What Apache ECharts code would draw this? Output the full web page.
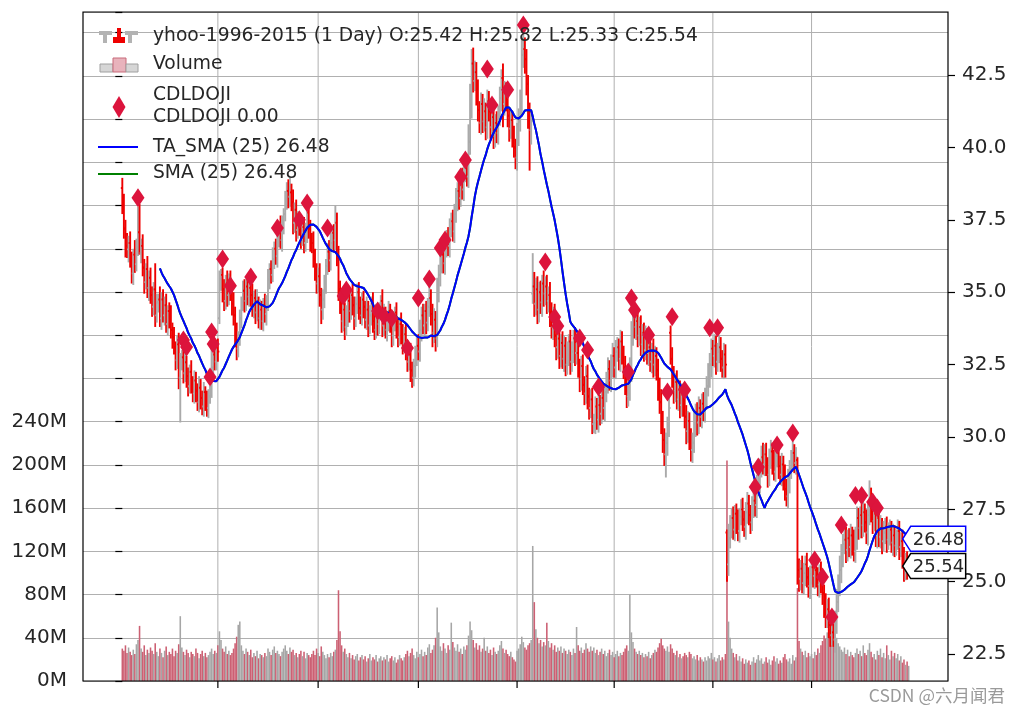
<!DOCTYPE html>
<html><head><meta charset="utf-8">
<script src="https://cdn.jsdelivr.net/npm/echarts@6/dist/echarts.min.js"></script>
<style>html,body{margin:0;padding:0;background:#fff}#c{width:1021px;height:714px}</style>
</head><body><div id="c"></div>
<script>
// ---- data (daily bars, 2005-01-03 .. 2006-12-29) ----
const opens = [38.60,38.20,37.20,36.60,36.48,36.70,36.10,35.65,36.30,35.97,
36.55,37.07,36.35,36.60,35.85,35.35,35.80,35.15,35.50,34.90,
34.50,35.10,34.20,34.65,34.75,34.10,34.75,34.20,34.55,33.90,
34.35,34.10,33.70,33.45,33.10,32.65,33.20,32.05,32.60,32.75,
32.20,32.58,32.10,31.75,32.25,31.90,31.50,31.95,31.60,31.20,
31.70,31.35,31.05,31.55,31.30,31.00,31.40,31.45,32.40,32.85,
32.60,33.10,34.10,35.45,35.60,35.10,34.70,35.30,34.90,35.45,
35.00,34.60,34.20,33.60,33.05,33.40,34.10,34.65,35.05,34.70,
35.20,34.85,35.15,34.90,34.45,34.80,34.30,34.65,34.10,34.40,
34.00,34.55,34.25,34.60,35.45,35.80,35.60,36.15,36.50,36.25,
36.90,37.20,36.80,37.35,37.70,38.15,38.50,38.30,38.45,38.10,
37.40,37.85,37.15,37.50,37.30,36.90,37.25,36.70,37.10,37.75,
37.20,36.80,36.70,36.15,35.80,35.30,35.55,34.90,34.40,34.75,
35.30,35.90,36.40,36.10,36.70,37.05,36.80,37.40,36.20,35.10,
34.60,34.00,34.40,33.80,34.15,34.70,34.35,34.90,34.55,34.10,
34.60,35.00,34.45,34.20,34.75,34.50,34.05,34.40,33.85,34.20,
34.60,34.00,33.70,34.25,33.90,34.35,34.70,33.85,34.25,33.70,
34.00,34.35,33.90,33.50,33.95,34.30,33.80,33.45,33.90,33.60,
33.20,33.55,33.05,32.60,32.85,32.30,32.05,32.45,32.80,33.15,
32.95,33.70,34.20,33.85,34.35,33.95,34.50,34.80,34.25,33.60,
34.05,33.40,35.00,35.60,35.95,36.30,36.00,36.50,36.85,36.60,
37.20,37.45,37.10,37.70,38.15,38.50,38.25,38.80,38.55,39.10,
39.30,39.00,40.20,41.50,42.90,42.30,42.60,41.90,41.30,40.85,
41.50,40.90,41.25,40.70,41.60,41.25,40.70,41.05,40.40,40.85,
40.50,41.10,41.70,42.40,41.50,41.95,41.60,41.10,40.65,40.95,
40.40,40.00,39.65,40.45,40.90,41.50,43.20,43.40,43.05,42.20,
41.10,40.60,34.95,35.20,34.60,35.10,34.40,35.00,34.65,35.30,
34.95,35.20,34.70,34.90,34.30,33.80,34.20,33.50,33.10,33.40,
32.80,33.25,32.70,33.15,32.50,32.85,33.30,32.60,32.95,33.40,
32.90,32.90,32.40,32.00,32.45,31.80,31.50,32.10,31.40,31.00,
31.30,30.45,30.50,31.05,30.60,31.10,30.80,31.35,31.00,31.55,
31.90,32.35,31.95,32.50,32.80,32.40,32.95,33.10,32.70,33.30,
32.85,32.40,31.90,31.40,31.70,32.30,33.50,34.20,33.80,34.00,
33.50,33.80,33.20,33.60,33.00,33.45,32.90,33.10,32.60,32.95,
32.50,32.80,32.30,31.70,31.20,30.60,29.90,29.40,29.80,30.40,
33.60,32.70,32.10,31.60,31.90,31.30,31.65,31.10,31.45,31.05,
30.70,30.20,30.55,29.90,29.55,29.80,30.40,30.85,30.50,31.00,
30.70,31.15,30.90,31.40,31.75,32.10,32.50,33.05,32.80,33.15,
32.60,32.95,33.10,32.70,32.40,32.85,26.70,25.60,26.50,26.90,
27.20,26.80,27.35,27.10,26.75,27.25,27.50,27.15,26.90,27.40,
27.70,27.30,27.05,27.55,27.80,27.65,28.30,28.45,28.90,29.30,
29.05,29.40,29.00,28.70,29.25,29.50,29.10,28.80,29.35,29.45,
29.00,28.70,29.05,28.60,28.20,27.95,28.50,28.90,29.20,29.45,
29.10,29.20,25.40,25.10,25.45,24.95,25.30,25.60,25.15,24.85,
25.25,25.50,25.20,25.40,25.15,24.90,25.30,24.95,24.60,24.20,
23.80,24.05,23.50,23.15,23.25,23.00,23.60,24.30,24.90,25.40,
25.90,26.30,26.45,26.10,26.50,26.20,26.60,26.35,26.05,26.55,
27.20,26.85,27.30,26.95,27.40,27.05,26.70,27.30,27.90,27.45,
27.10,27.35,26.60,27.20,26.55,26.85,26.40,26.70,26.90,26.45,
26.65,26.80,26.35,26.60,26.25,26.50,26.75,26.20,26.40,25.85,
25.45,25.70,25.42];

const closes = [38.20,37.20,36.60,36.48,36.70,36.10,35.65,36.30,35.97,36.55,
37.07,36.35,36.60,35.85,35.35,35.80,35.15,35.50,34.90,34.50,
35.10,34.20,34.65,34.75,34.10,34.75,34.20,34.55,33.90,34.35,
34.10,33.70,33.45,33.10,32.65,33.20,32.05,32.60,32.75,32.20,
32.58,32.10,31.75,32.25,31.90,31.50,31.95,31.60,31.20,31.70,
31.35,31.05,31.55,31.30,31.00,31.40,31.45,32.40,32.85,32.60,
33.10,32.95,35.45,35.60,35.10,34.70,35.30,34.90,35.45,35.00,
34.60,34.20,33.60,33.05,33.40,34.10,34.65,35.05,34.70,35.20,
34.85,35.15,34.90,34.45,34.80,34.30,34.65,34.10,34.40,34.00,
34.55,34.25,34.60,35.45,35.80,35.60,36.15,36.50,36.25,36.90,
37.20,36.80,37.35,37.70,38.15,38.50,38.30,38.45,38.10,37.40,
37.85,37.15,37.50,37.30,36.90,37.25,36.70,37.10,37.75,37.20,
36.80,36.70,36.15,35.80,35.30,35.55,34.90,34.40,34.75,35.30,
35.90,36.40,36.10,36.70,37.05,36.80,37.40,36.20,35.10,34.60,
34.00,34.40,33.80,34.15,34.70,34.35,34.90,34.55,34.10,34.60,
35.00,34.45,34.20,34.75,34.50,34.05,34.40,33.85,34.20,34.60,
34.00,33.70,34.25,33.90,34.35,34.70,33.85,34.25,33.70,34.00,
34.35,33.90,33.50,33.95,34.30,33.80,33.45,33.90,33.60,33.20,
33.55,33.05,32.60,32.85,32.30,32.05,32.45,32.80,33.15,32.95,
33.70,34.20,33.85,34.35,33.95,34.50,34.80,34.25,33.60,34.05,
33.40,35.00,35.60,35.95,36.30,36.00,36.50,36.85,36.60,37.20,
37.45,37.10,37.70,38.15,38.50,38.25,38.80,38.55,39.10,39.30,
39.00,40.20,41.50,42.90,42.30,42.60,41.90,41.30,40.85,41.50,
40.90,41.25,40.70,41.60,41.25,40.70,41.05,40.40,40.85,40.50,
41.10,41.70,42.40,41.50,41.95,41.60,41.10,40.65,40.95,40.40,
40.00,39.65,40.45,40.90,41.50,43.20,43.40,43.05,42.20,41.10,
40.60,40.90,35.20,34.60,35.10,34.40,35.00,34.65,35.30,34.95,
35.20,34.70,34.90,34.30,33.80,34.20,33.50,33.10,33.40,32.80,
33.25,32.70,33.15,32.50,32.85,33.30,32.60,32.95,33.40,32.90,
32.90,32.40,32.00,32.45,31.80,31.50,32.10,31.40,31.00,31.30,
30.45,30.50,31.05,30.60,31.10,30.80,31.35,31.00,31.55,31.90,
32.35,31.95,32.50,32.80,32.40,32.95,33.10,32.70,33.30,32.85,
32.40,31.90,31.40,31.70,32.30,33.50,34.20,33.80,34.00,33.50,
33.80,33.20,33.60,33.00,33.45,32.90,33.10,32.60,32.95,32.50,
32.80,32.30,31.70,31.20,30.60,29.90,29.40,29.80,30.40,31.00,
32.70,32.10,31.60,31.90,31.30,31.65,31.10,31.45,31.05,30.70,
30.20,30.55,29.90,29.55,29.80,30.40,30.85,30.50,31.00,30.70,
31.15,30.90,31.40,31.75,32.10,32.50,33.05,32.80,33.15,32.60,
32.95,33.10,32.70,32.40,32.85,32.50,25.60,26.50,26.90,27.20,
26.80,27.35,27.10,26.75,27.25,27.50,27.15,26.90,27.40,27.70,
27.30,27.05,27.55,27.80,27.65,28.30,28.45,28.90,29.30,29.05,
29.40,29.00,28.70,29.25,29.50,29.10,28.80,29.35,29.45,29.00,
28.70,29.05,28.60,28.20,27.95,28.50,28.90,29.20,29.45,29.10,
29.30,25.40,25.10,25.45,24.95,25.30,25.60,25.15,24.85,25.25,
25.50,25.20,25.40,25.15,24.90,25.30,24.95,24.60,24.20,23.80,
24.05,23.50,23.15,23.25,23.00,23.60,24.30,24.90,25.40,25.90,
26.30,26.45,26.10,26.50,26.20,26.60,26.35,26.05,26.55,27.20,
26.85,27.30,26.95,27.40,27.05,26.70,27.30,27.90,27.45,27.10,
27.35,26.60,27.20,26.55,26.85,26.40,26.70,26.90,26.45,26.65,
26.80,26.35,26.60,26.25,26.50,26.75,26.20,26.40,25.85,25.45,
25.70,25.42,25.54];

// distance from the bar body to the high / low (price units)
const wickUp = [.35,.20,.30,.45,.25,.40,.30,.20,.50,.30,
.88,.98,.25,.40,.30,.20,.45,.25,.35,.30,
.25,.90,.30,.20,.45,.25,.35,.30,.40,.20,
.30,.45,.25,.35,.20,.30,.40,.30,.25,.30,
.35,.22,.30,.25,.40,.20,.35,.30,.25,.40,
.30,.25,.35,.20,.30,.25,.32,.93,.05,.40,
.25,.30,.30,.20,.25,.35,.30,.45,.20,.30,
.25,.40,.30,.35,.25,.30,.20,.35,.40,.25,
.30,.20,.35,.40,.25,.30,.45,.20,.35,.30,
.25,.40,.30,.35,.20,.30,.40,.25,.35,.30,
.25,.45,.30,.20,.35,.30,.40,.50,.30,.45,
.25,.35,.30,.20,.40,.25,.35,.30,.05,.40,
.30,.25,.40,.35,.20,.30,.45,.25,.35,.30,
.25,.30,.40,.35,.25,.30,.60,.35,.40,.30,
.45,.30,.25,.40,.30,.35,.20,.40,.30,.25,
.30,.35,.40,.25,.30,.20,.45,.30,.35,.25,
.40,.30,.35,.25,.30,.20,.40,.35,.25,.30,
.35,.25,.30,.40,.20,.35,.30,.25,.40,.30,
.25,.35,.30,.20,.40,.30,.25,.35,.30,.40,
.35,.30,.40,.25,.35,.30,.45,.30,.35,.40,
.30,.50,.35,.40,.30,.45,.35,.30,.40,.35,
.30,.40,.35,.45,.30,.40,.35,.50,.30,.40,
.35,.60,.70,.50,.55,.40,.35,.45,.30,.40,
.35,.45,.30,.40,.35,.30,.45,.35,.30,.40,
.35,.40,.30,.50,.35,.30,.40,.25,.35,.30,
.35,.30,.40,.45,.50,.60,.56,.40,.35,.30,
.45,.30,1.15,.50,.40,.45,.35,.40,.30,.45,
.35,.40,.30,.45,.35,.30,.40,.35,.30,.45,
.30,.40,.35,.30,.45,.25,.40,.35,.30,.40,
.35,.40,.30,.35,.40,.30,.35,.40,.30,.35,
.40,.30,.35,.30,.40,.35,.30,.45,.30,.35,
.40,.30,.35,.45,.30,.40,.35,.30,.40,.35,
.30,.40,.35,.30,.45,.50,.40,.35,.30,.40,
.35,.40,.30,.35,.40,.30,.35,.40,.30,.45,
.35,.30,.40,.35,.45,.30,.40,.35,.30,.40,
.25,.40,.35,.30,.40,.35,.30,.40,.35,.30,
.40,.35,.30,.40,.35,.45,.30,.35,.40,.30,
.35,.40,.30,.35,.45,.40,.35,.30,.40,.35,
.30,.40,.35,.30,.40,.35,.10,.50,.40,.35,
.40,.30,.35,.40,.30,.35,.40,.30,.35,.40,
.30,.35,.40,.30,.35,.40,.45,.35,.40,.50,
.35,.40,.30,.35,.40,.30,.45,.35,.30,.40,
.35,.40,.30,.45,.35,.40,.30,.35,.40,.30,
.35,.10,.40,.30,.45,.35,.30,.40,.35,.30,
.40,.35,.30,.40,.35,.30,.40,.35,.30,.40,
.35,.40,.30,.35,.30,.40,.45,.35,.50,.40,
.35,.40,.45,.30,.35,.40,.30,.45,.35,.40,
.35,.30,.40,.35,.30,.45,.40,.60,.35,.40,
.30,.35,.40,.30,.45,.35,.40,.30,.35,.40,
.35,.30,.40,.35,.30,.40,.35,.30,.40,.35,
.30,.35,.28];

const wickDown = [.50,.35,.40,.30,.45,.25,.35,.40,.30,.25,
.30,.05,.35,.30,.40,.25,.35,.45,.30,.35,
.30,.40,.25,.35,.30,.40,.25,.35,.30,.40,
.35,.30,.40,.25,.35,.30,.40,1.55,.30,.35,
.30,.40,.35,.25,.40,.30,.35,.40,.30,.35,
.40,.30,.35,.40,.30,.35,.25,.10,.35,.30,
.30,.35,.20,.40,.45,.35,.30,.40,.35,.30,
.40,.35,.50,.40,.30,.25,.35,.30,.40,.35,
.30,.35,.40,.30,.35,.40,.30,.35,.40,.30,
.35,.30,.40,.25,.35,.30,.25,.35,.30,.40,
.35,.30,.40,.35,.25,.30,.40,.35,.30,.40,
.35,.40,.30,.35,.40,.30,.35,.30,.40,.35,
.40,.35,.30,.40,.35,.30,.40,.50,.35,.30,
.35,.30,.40,.35,.30,.40,.35,.30,.40,.35,
.40,.35,.45,.30,.35,.40,.30,.35,.40,.30,
.35,.40,.30,.35,.40,.30,.35,.40,.30,.35,
.40,.35,.30,.40,.35,.30,.40,.35,.30,.40,
.35,.30,.40,.35,.30,.40,.35,.30,.40,.35,
.30,.40,.35,.30,.40,.35,.30,.40,.35,.30,
.35,.40,.30,.35,.40,.30,.35,.40,.50,.35,
.45,.30,.35,.40,.30,.35,.40,.30,.35,.40,
.30,.35,.40,.30,.35,.40,.30,.35,.40,.30,
.35,.40,.45,.50,.40,.35,.45,.40,.35,.40,
.40,.35,.45,.40,.35,.40,.35,.45,.40,.35,
.40,.35,.45,.80,.40,.35,.40,.45,.35,.40,
.35,.40,.45,.40,.35,.40,.45,.50,.40,.45,
1.40,.50,.35,.45,.40,.50,.45,.40,.50,.45,
.40,.45,.40,.50,.40,.45,.40,.45,.40,.45,
.40,.35,.45,.40,.35,.40,.45,.35,.40,.45,
.40,.35,.45,.40,.35,.40,.35,.45,.40,.35,
.35,.31,.40,.35,.45,.40,.35,.40,.45,.35,
.40,.35,.40,.45,.35,.40,.35,.40,.45,.35,
.40,.45,.40,.35,.45,.40,.35,.40,.45,.40,
.35,.40,.45,.40,.35,.40,.45,.35,.40,.45,
.40,.35,.45,.40,.50,.45,.40,.80,.45,.40,
.20,.40,.45,.40,.35,.40,.45,.40,.35,.40,
.45,.40,.35,.40,.45,.35,.40,.45,.40,.35,
.40,.35,.40,.45,.35,.40,.45,.35,.40,.45,
.35,.40,.45,.35,.40,.45,.60,.40,.35,.40,
.35,.40,.45,.35,.40,.30,.40,.35,.45,.40,
.35,.40,.30,.35,.40,.45,.35,.40,.30,.35,
.40,.35,.45,.40,.35,.40,.30,.35,.40,.45,
.35,.40,.45,.40,.35,.40,.45,.35,.40,.35,
.40,.50,.45,.40,.35,.40,.45,.35,.40,.45,
.35,.40,.45,.35,.40,.45,.35,.40,.45,.40,
.40,.45,.40,.35,.25,.45,.40,.35,.40,.45,
.40,.35,.45,.40,.35,.40,.45,.35,.40,.45,
.40,.35,.45,.40,.35,.40,.45,.35,.40,.45,
.35,.40,.45,.35,.40,.45,.35,.40,.45,.35,
.40,.35,.45,.40,.35,.40,.45,.35,.40,.45,
.40,.35,.09];

// volume, millions of shares
const volumes = [30,28,33,26,31,27,24,29,25,34,
38,51,30,27,33,24,29,26,31,28,
25,35,27,23,30,26,22,28,32,24,
27,25,30,23,28,26,34,60,31,27,
24,29,26,22,27,25,23,30,26,21,
25,28,23,26,22,24,27,30,25,28,
26,33,46,38,30,27,32,25,28,24,
26,30,35,41,52,55,33,28,25,30,
27,24,29,22,26,23,28,21,25,24,
22,26,23,30,27,24,29,32,26,28,
25,23,27,30,33,28,25,31,27,29,
24,26,22,25,28,23,27,21,26,24,
22,25,28,24,30,26,23,32,27,24,
21,25,22,26,23,27,29,38,84,46,
33,27,30,25,22,26,21,24,20,23,
25,19,22,24,20,23,18,21,25,19,
22,20,24,18,21,23,19,22,20,24,
18,21,23,19,22,17,20,24,21,19,
22,25,28,23,26,30,24,21,27,22,
25,29,23,27,24,31,34,26,29,33,
40,68,45,32,28,35,30,26,33,29,
54,36,31,28,34,27,30,25,32,29,
33,42,55,47,38,31,35,29,33,27,
30,40,28,32,26,29,24,31,27,25,
28,33,37,30,26,29,25,23,27,22,
20,18,28,30,34,41,36,31,29,33,
35,38,125,73,48,40,35,38,32,36,
33,54,37,31,35,29,33,27,31,28,
32,26,30,28,25,29,27,24,30,26,
50,33,28,31,26,29,35,30,27,32,
28,31,26,29,24,27,30,25,28,23,
26,29,24,27,22,25,28,23,26,24,
27,30,33,28,80,45,36,30,27,25,
28,24,26,22,25,23,27,21,24,26,
29,27,31,35,39,33,30,28,32,27,
34,30,26,24,28,22,25,21,23,26,
24,22,27,25,21,23,20,24,19,22,
20,18,22,19,23,21,26,20,22,18,
21,24,19,22,20,25,204,55,40,30,
26,22,25,19,23,18,21,16,20,17,
19,15,18,22,17,20,24,19,21,16,
18,22,17,20,15,19,23,18,21,16,
19,17,22,25,20,18,21,16,24,19,
22,86,37,30,27,24,28,22,26,23,
25,21,27,24,30,26,33,37,42,39,
45,48,41,55,38,44,40,35,32,29,
27,31,25,29,23,27,24,22,26,30,
25,28,23,33,26,24,29,35,27,22,
25,20,28,24,30,22,26,21,33,24,
20,28,23,26,21,25,19,23,17,20,
15,18,14];

// CDLDOJI hits: bar index and marker level
const dojiIdx = [10,39,41,56,57,58,64,69,82,99,113,118,131,141,143,163,167,172,182,189,196,203,206,216,219,233,236,246,256,270,276,278,292,297,304,323,325,327,336,348,351,359,375,380,404,406,418,428,442,447,453,459,468,472,479,482];
const dojiVal = [38.26,33.35,33.11,32.07,33.63,33.21,36.15,35.22,35.53,37.22,37.50,38.08,37.22,34.87,35.08,34.35,34.18,34.10,33.07,34.80,35.46,36.53,36.80,38.98,39.57,42.71,41.47,41.99,44.23,36.04,34.14,33.83,33.42,33.00,31.73,32.24,34.80,34.39,33.52,31.55,34.15,31.62,33.77,33.77,28.27,28.96,29.72,30.14,25.75,25.16,23.78,26.96,27.98,27.98,27.75,27.55];

// first trading day of each quarter (bar index) -> x ticks
const quarterIdx = [61,125,189,252,314,377,440];
const priceTicks = [22.5,25,27.5,30,32.5,35,37.5,40,42.5];
const SMA_PERIOD = 25;

// ---- build ----
const n = closes.length;
const highs = closes.map((c,i)=> Math.max(opens[i],c) + wickUp[i]);
const lows  = closes.map((c,i)=> Math.min(opens[i],c) - wickDown[i]);
const ohlc = closes.map((c,i)=>[i, opens[i], highs[i], lows[i], c]);
const volData = volumes.map((v,i)=>[i, v, closes[i] >= opens[i] ? 1 : 0]);
const smaData = [];
for (let i = SMA_PERIOD-1; i < n; i++) {
  let s = 0; for (let k = i-SMA_PERIOD+1; k <= i; k++) s += closes[k];
  smaData.push([i, s/SMA_PERIOD]);
}
const smaLast = smaData[smaData.length-1][1];
const dojiData = dojiIdx.map((d,k)=>[d, dojiVal[k]]);
const L = n-1;
const f2 = v => v.toFixed(2);

const FONT = 'DejaVu Sans';
const LFONT = `18.7px "${FONT}"`;
const chart = echarts.init(document.getElementById('c'));
const TXT = '#262626';

const legendG = [
  // OHLC icon
  {type:'rect', shape:{x:99,y:31,width:13,height:4}, style:{fill:'#b3b3b3'}},
  {type:'rect', shape:{x:103,y:31,width:4,height:12}, style:{fill:'#b3b3b3'}},
  {type:'rect', shape:{x:117,y:28,width:4,height:15}, style:{fill:'#ee0000'}},
  {type:'rect', shape:{x:113,y:37,width:12,height:6}, style:{fill:'#ee0000'}},
  {type:'rect', shape:{x:125,y:31,width:13,height:4}, style:{fill:'#b3b3b3'}},
  {type:'rect', shape:{x:128,y:31,width:4,height:12}, style:{fill:'#b3b3b3'}},
  {type:'text', style:{x:153,y:36,text:`yhoo-1996-2015 (1 Day) O:${f2(opens[L])} H:${f2(highs[L])} L:${f2(lows[L])} C:${f2(closes[L])}`, font:LFONT, fill:TXT, verticalAlign:'middle'}},
  // volume icon
  {type:'rect', shape:{x:100,y:64,width:13,height:8}, style:{fill:'#d6d6d6', stroke:'#a0a0a0', lineWidth:1}},
  {type:'rect', shape:{x:113,y:58,width:13,height:14}, style:{fill:'#e8b3bc', stroke:'#c86a7a', lineWidth:1}},
  {type:'rect', shape:{x:126,y:64,width:12,height:8}, style:{fill:'#d6d6d6', stroke:'#a0a0a0', lineWidth:1}},
  {type:'text', style:{x:153,y:64,text:'Volume', font:LFONT, fill:TXT, verticalAlign:'middle'}},
  // doji icon
  {type:'polygon', shape:{points:[[119,96],[125.5,107],[119,118],[112.5,107]]}, style:{fill:'#dc143c'}},
  {type:'text', style:{x:153,y:95,text:'CDLDOJI', font:LFONT, fill:TXT, verticalAlign:'middle'}},
  {type:'text', style:{x:153,y:117,text:'CDLDOJI 0.00', font:LFONT, fill:TXT, verticalAlign:'middle'}},
  // sma icons
  {type:'line', shape:{x1:98,y1:147,x2:138,y2:147}, style:{stroke:'#0000ff', lineWidth:2}},
  {type:'text', style:{x:153,y:147,text:`TA_SMA (${SMA_PERIOD}) ${f2(smaLast)}`, font:LFONT, fill:TXT, verticalAlign:'middle'}},
  {type:'line', shape:{x1:98,y1:174,x2:138,y2:174}, style:{stroke:'#008000', lineWidth:2}},
  {type:'text', style:{x:153,y:173,text:`SMA (${SMA_PERIOD}) ${f2(smaLast)}`, font:LFONT, fill:TXT, verticalAlign:'middle'}},
].map(e => Object.assign({z:60, silent:true}, e));

const option = {
  animation: false,
  backgroundColor: '#fff',
  textStyle: {fontFamily: FONT},
  grid: {left: 83, right: 73, top: 12, bottom: 33, containLabel: false},
  xAxis: {type:'value', min:-25.1, max:527.1,
    axisLine:{show:false}, axisTick:{show:false}, axisLabel:{show:false}, splitLine:{show:false}},
  yAxis: [
    {type:'value', position:'left', min:0, max:619.2, interval:40,
     axisLine:{show:false},
     axisTick:{show:true, length:7, lineStyle:{color:'#000', width:1.2}},
     axisLabel:{fontSize:20, color:TXT, margin:16, formatter: v => v <= 240 ? v + 'M' : ''},
     splitLine:{show:true, lineStyle:{color:'#b0b0b0', width:1}}},
    {type:'value', position:'right', min:21.57, max:44.68,
     axisLine:{show:false},
     axisTick:{show:true, length:7, customValues: priceTicks, lineStyle:{color:'#000', width:1.2}},
     axisLabel:{fontSize:20, color:TXT, margin:14, customValues: priceTicks, formatter: v => v.toFixed(1)},
     splitLine:{show:false}}
  ],
  graphic: [
    {type:'rect', shape:{x:83,y:12,width:865,height:669}, style:{fill:'none', stroke:'#000', lineWidth:1.2}, z:50, silent:true},
    {type:'text', style:{x:1005,y:695,text:'CSDN @六月闻君', font:'17.5px "Noto Sans CJK SC"', fill:'#9a9a9a', align:'right', verticalAlign:'middle'}, z:60, silent:true},
    ...legendG
  ],
  series: [
    { // vertical grid + x ticks at quarter starts
      type:'custom', yAxisIndex:1, z:1, clip:false, silent:true,
      data: quarterIdx.map(q=>[q, 30]),
      encode:{x:0, y:1},
      renderItem:(params, api)=>{
        const x = api.coord([api.value(0), api.value(1)])[0];
        const cs = params.coordSys;
        return {type:'group', children:[
          {type:'line', shape:{x1:x,y1:cs.y,x2:x,y2:cs.y+cs.height}, style:{stroke:'#b0b0b0', lineWidth:1}},
          {type:'line', shape:{x1:x,y1:cs.y+cs.height,x2:x,y2:cs.y+cs.height+7}, style:{stroke:'#000', lineWidth:1.2}}
        ]};
      }
    },
    { // volume
      type:'custom', yAxisIndex:0, z:2, silent:true,
      data: volData, encode:{x:0, y:1},
      renderItem:(params, api)=>{
        const i = api.value(0), v = api.value(1), up = api.value(2);
        const a = api.coord([i-0.5, v]), b = api.coord([i+0.5, 0]);
        return {type:'rect', shape:{x:a[0], y:a[1], width:b[0]-a[0], height:b[1]-a[1]},
                style:{fill: up ? '#a6a6a6' : '#cc6073'}};
      }
    },
    { // OHLC bars
      type:'custom', yAxisIndex:1, z:3, silent:true,
      data: ohlc, encode:{x:0, y:[1,2,3,4]},
      renderItem:(params, api)=>{
        const i=api.value(0), o=api.value(1), h=api.value(2), l=api.value(3), c=api.value(4);
        const pH=api.coord([i,h]), pL=api.coord([i,l]), pO=api.coord([i,o]), pC=api.coord([i,c]);
        const col = c < o ? '#ee0000' : '#aaaaaa';
        const x = pH[0], t = 1.5, w = 1.9;
        return {type:'group', children:[
          {type:'line', shape:{x1:x,y1:pH[1],x2:x,y2:pL[1]}, style:{stroke:col,lineWidth:w}},
          {type:'line', shape:{x1:x-t,y1:pO[1],x2:x,y2:pO[1]}, style:{stroke:col,lineWidth:w}},
          {type:'line', shape:{x1:x,y1:pC[1],x2:x+t,y2:pC[1]}, style:{stroke:col,lineWidth:w}}
        ]};
      }
    },
    {type:'line', name:'SMA', yAxisIndex:1, z:4, data:smaData, showSymbol:false, silent:true,
     lineStyle:{color:'#008000', width:2}},
    {type:'line', name:'TA_SMA', yAxisIndex:1, z:5, data:smaData, showSymbol:false, silent:true,
     lineStyle:{color:'#0000ff', width:2}},
    {type:'scatter', name:'CDLDOJI', yAxisIndex:1, z:6, data:dojiData, symbol:'diamond', symbolSize:[13,19],
     itemStyle:{color:'#dc143c', opacity:1}, silent:true},
    { // last value tags
      type:'custom', yAxisIndex:1, z:100, clip:false, silent:true,
      data: [[L, smaLast, 1], [L, closes[L], 0]], encode:{x:0, y:1},
      renderItem:(params, api)=>{
        const v = api.value(1), blue = api.value(2);
        const p = api.coord([api.value(0), v]);
        const tx = p[0]-6, yc = p[1], hh = 12.5, notch = 8, w = 63;
        return {type:'group', children:[
          {type:'polygon', shape:{points:[[tx,yc],[tx+notch,yc-hh],[tx+w,yc-hh],[tx+w,yc+hh],[tx+notch,yc+hh]]},
           style:{fill:'#fff', stroke: blue ? '#0000ff' : '#000', lineWidth:1.5}},
          {type:'text', style:{x:tx+notch+2, y:yc+1, text:v.toFixed(2), font:`18px "${FONT}"`, fill:TXT, verticalAlign:'middle'}}
        ]};
      }
    }
  ]
};
chart.setOption(option);
</script></body></html>
